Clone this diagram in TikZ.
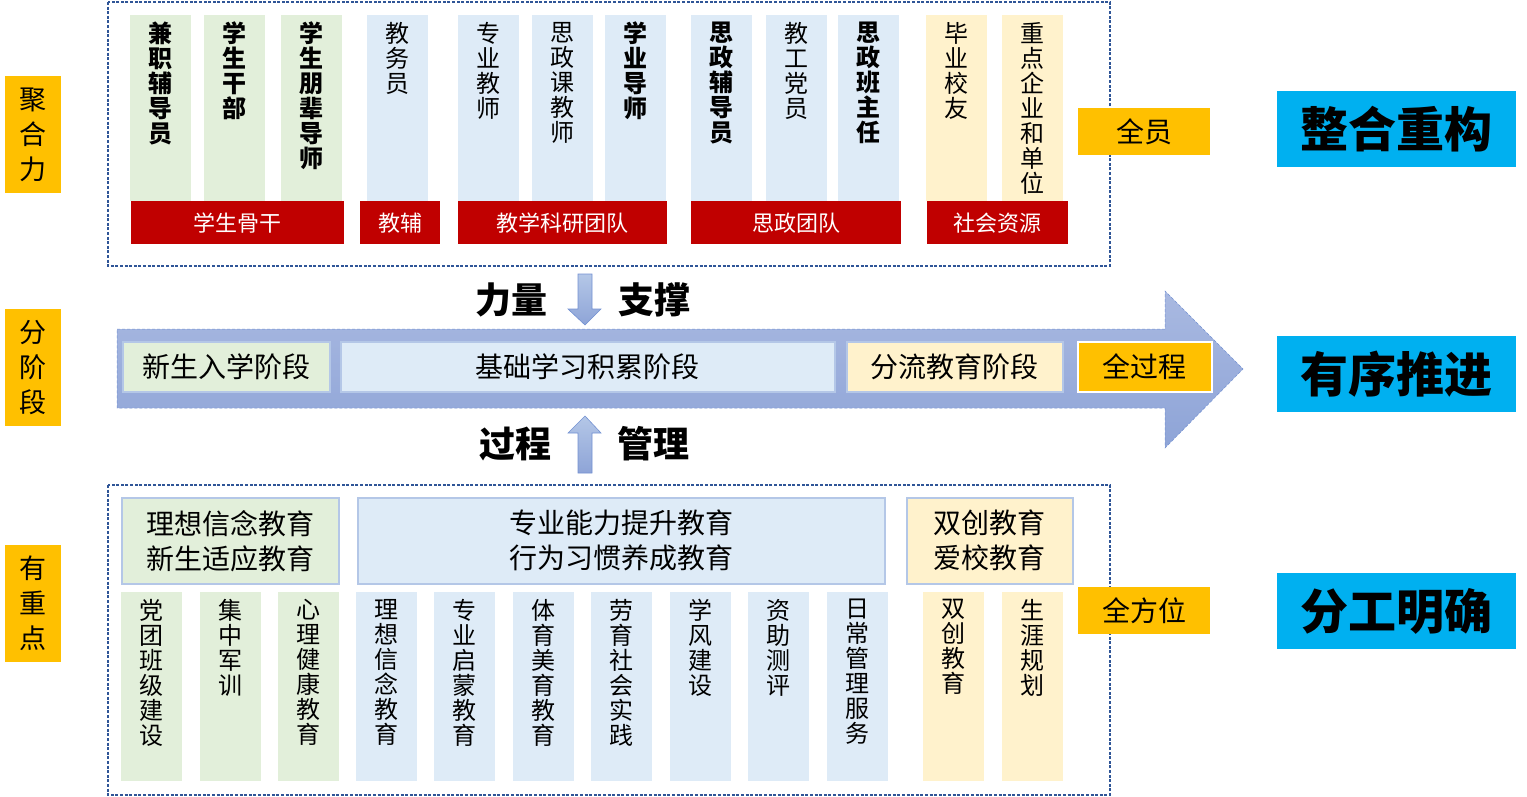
\documentclass[tikz,border=0pt]{standalone}
\usepackage{fontspec}
\setmainfont{Noto Sans CJK SC}
\XeTeXlinebreaklocale "zh"
\XeTeXlinebreakskip=0pt plus 1pt
\usetikzlibrary{positioning}
\definecolor{gfill}{HTML}{E2EFDA}
\definecolor{bfill}{HTML}{DEEBF7}
\definecolor{yfill}{HTML}{FFF2CC}
\definecolor{redbar}{HTML}{C00000}
\definecolor{gold}{HTML}{FFC000}
\definecolor{cyanlab}{HTML}{00B0F0}
\definecolor{frame}{HTML}{2F5597}
\definecolor{edge}{HTML}{B4C7E7}
\definecolor{bandtop}{HTML}{A9B9E1}
\definecolor{bandbot}{HTML}{8EA4D7}
\definecolor{bandline}{HTML}{7391D2}
\tikzset{
  colbox/.style={anchor=north west,inner sep=0pt,minimum width=61pt},
  vtxt/.style={anchor=north,text width=27pt,align=center,inner sep=0pt,
    font=\fontsize{24}{25}\selectfont},
  bar/.style={anchor=north west,fill=redbar,text=white,inner sep=0pt,
    minimum height=43pt,font=\fontsize{22}{26}\selectfont},
  widebox/.style={anchor=north west,draw=edge,line width=1.5pt,inner sep=0pt,
    minimum height=86pt,align=center,font=\fontsize{28}{35}\selectfont},
  stagebox/.style={anchor=north west,draw=edge,line width=1.5pt,inner sep=0pt,
    minimum height=50pt,font=\fontsize{28}{32}\selectfont},
  tag/.style={anchor=north west,fill=gold,inner sep=0pt,minimum width=132pt,
    minimum height=47pt,font=\fontsize{28}{32}\selectfont},
  sidetag/.style={anchor=north west,fill=gold,inner sep=0pt,minimum width=56pt,
    minimum height=117pt,text width=31pt,align=center,font=\fontsize{27}{35}\selectfont},
  headtag/.style={anchor=north west,fill=cyanlab,inner sep=0pt,minimum width=239pt,
    minimum height=76pt,font=\fontsize{48}{52}\selectfont\bfseries},
  keyword/.style={inner sep=0pt,font=\fontsize{36}{40}\selectfont\bfseries},
  dotframe/.style={draw=frame,line width=2.6pt,dash pattern=on 3pt off 1.6pt},
  smallarrow/.style={top color=edge,bottom color=bandbot,draw=bandline,line width=0.6pt}
}
\begin{document}
\begin{tikzpicture}[x=1pt,y=-1pt]
  \useasboundingbox (0,0) rectangle (1527,797);
  % frames
  \draw[dotframe] (108,2) rectangle (1110,266);
  \draw[dotframe] (108,485) rectangle (1110,795);
  % top columns
  \foreach \x/\c/\f/\t [count=\i] in {130/gfill/\bfseries/兼职辅导员,204/gfill/\bfseries/学生干部,
      281/gfill/\bfseries/学生朋辈导师,367/bfill/\mdseries/教务员,458/bfill/\mdseries/专业教师,
      532/bfill/\mdseries/思政课教师,605/bfill/\bfseries/学业导师,691/bfill/\bfseries/思政辅导员,
      766/bfill/\mdseries/教工党员,838/bfill/\bfseries/思政班主任,926/yfill/\mdseries/毕业校友,
      1002/yfill/\mdseries/重点企业和单位}{
    \node[colbox,fill=\c,minimum height=186pt] (top\i) at (\x,15) {};
    \node[vtxt] (toptxt\i) at ([yshift=-7pt]top\i.north) {\f\t};
  }
  \node[bar,minimum width=213pt] (bar1) at (131,201) {学生骨干};
  \node[bar,minimum width=80pt] (bar2) at (360,201) {教辅};
  \node[bar,minimum width=209pt] (bar3) at (458,201) {教学科研团队};
  \node[bar,minimum width=210pt] (bar4) at (691,201) {思政团队};
  \node[bar,minimum width=141pt] (bar5) at (927,201) {社会资源};
  \node[tag] (quanyuan) at (1078,108) {全员};
  % stage band
  \path[top color=bandtop,bottom color=bandbot,draw=bandline,densely dashed,line width=0.5pt]
    (117,329) -- (1165,329) -- (1165,291) -- (1243,369) -- (1165,448) -- (1165,408) -- (117,408) -- cycle;
  \node[stagebox,fill=gfill,minimum width=207pt] (st1) at (122,341) {新生入学阶段};
  \node[stagebox,fill=bfill,minimum width=494pt] (st2) at (340,341) {基础学习积累阶段};
  \node[stagebox,fill=yfill,minimum width=216pt] (st3) at (846,341) {分流教育阶段};
  \node[stagebox,fill=gold,draw=white,minimum width=134pt] (st4) at (1077,341) {全过程};
  % support arrows
  \path[smallarrow] (578,274) -- (592,274) -- (592,309) -- (601,309) -- (585,325) -- (568,309) -- (578,309) -- cycle;
  \path[smallarrow] (585,416) -- (601,433) -- (592,433) -- (592,473) -- (578,473) -- (578,433) -- (568,433) -- cycle;
  \node[keyword] (liliang) at (511,300) {力量};
  \node[keyword] (zhicheng) at (654,300) {支撑};
  \node[keyword] (guocheng) at (515,444) {过程};
  \node[keyword] (guanli) at (653,444) {管理};
  % bottom blocks
  \node[widebox,fill=gfill,minimum width=217pt] (w1) at (121,497) {理想信念教育\\新生适应教育};
  \node[widebox,fill=bfill,minimum width=527pt] (w2) at (357,497) {专业能力提升教育\\行为习惯养成教育};
  \node[widebox,fill=yfill,minimum width=166pt] (w3) at (906,497) {双创教育\\爱校教育};
  \foreach \x/\c/\t [count=\i] in {121/gfill/党团班级建设,200/gfill/集中军训,278/gfill/心理健康教育,
      356/bfill/理想信念教育,434/bfill/专业启蒙教育,513/bfill/体育美育教育,591/bfill/劳育社会实践,
      670/bfill/学风建设,748/bfill/资助测评,827/bfill/日常管理服务,923/yfill/双创教育,
      1002/yfill/生涯规划}{
    \node[colbox,fill=\c,minimum height=189pt] (bot\i) at (\x,592) {};
    \node[vtxt] (bottxt\i) at ([yshift=-7pt]bot\i.north) {\t};
  }
  \node[tag] (quanfangwei) at (1078,587) {全方位};
  % side labels
  \node[sidetag] (juheli) at (5,76) {聚合力};
  \node[sidetag] (fenjieduan) at (5,309) {分阶段};
  \node[sidetag] (youzhongdian) at (5,545) {有重点};
  \node[headtag] (zhenghe) at (1277,91) {整合重构};
  \node[headtag] (youxu) at (1277,336) {有序推进};
  \node[headtag] (fengong) at (1277,573) {分工明确};
\end{tikzpicture}
\end{document}
